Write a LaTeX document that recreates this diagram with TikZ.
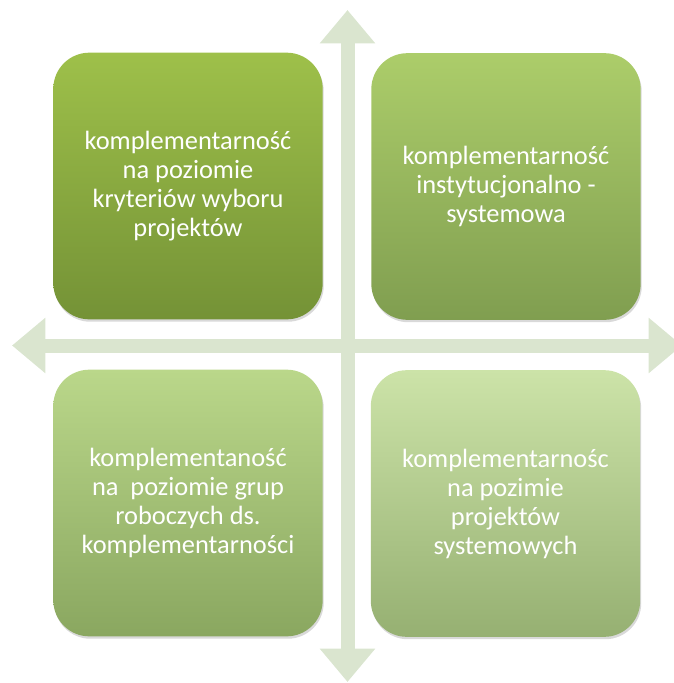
\documentclass[tikz,border=0pt]{standalone}
\usepackage{fontspec}
\setmainfont{Carlito}
\usetikzlibrary{arrows.meta,shadows,positioning}
\definecolor{axisgreen}{RGB}{218,229,207}
\definecolor{tltop}{RGB}{158,192,74}
\definecolor{tlbot}{RGB}{116,146,54}
\definecolor{trtop}{RGB}{172,205,106}
\definecolor{trbot}{RGB}{128,158,80}
\definecolor{bltop}{RGB}{186,215,138}
\definecolor{blbot}{RGB}{138,167,96}
\definecolor{brtop}{RGB}{204,227,168}
\definecolor{brbot}{RGB}{150,176,114}
\tikzset{
	quad/.style={rounded corners=27pt,minimum width=202pt,minimum height=200pt,inner sep=0pt,text=white,align=center,font=\fontsize{19.8}{21.75}\selectfont,drop shadow={shadow xshift=0.8pt,shadow yshift=-1.8pt,opacity=0.3}},
	axis/.style={color=axisgreen,line width=10.5pt,{Triangle[width=40pt,length=25pt]}-{Triangle[width=40pt,length=25pt]}}
}
\begin{document}
\begin{tikzpicture}[x=0.75pt,y=-0.75pt]
	\useasboundingbox (0,0) rectangle (674,683);
	% ends of the two axes
	\coordinate (N) at (347.5,10);
	\coordinate (S) at (347.5,682);
	\coordinate (W) at (12,345.5);
	\coordinate (E) at (682,345.5);
	
	\draw[axis] (N) -- (S);
	\draw[axis] (W) -- (E);
	
	\node[quad,top color=tltop,bottom color=tlbot] (TL) at (188,186) {komplementarność\\na poziomie\\kryteriów wyboru\\projektów};
	\node[quad,top color=trtop,bottom color=trbot] (TR) at (506,186.5) {komplementarność\\instytucjonalno -\\systemowa};
	\node[quad,top color=bltop,bottom color=blbot] (BL) at (188,503) {komplementaność\\na~ poziomie grup\\roboczych ds.\\komplementarności};
	\node[quad,top color=brtop,bottom color=brbot] (BR) at (505.5,503.5) {komplementarnośc\\na pozimie\\projektów\\systemowych};
\end{tikzpicture}
\end{document}
